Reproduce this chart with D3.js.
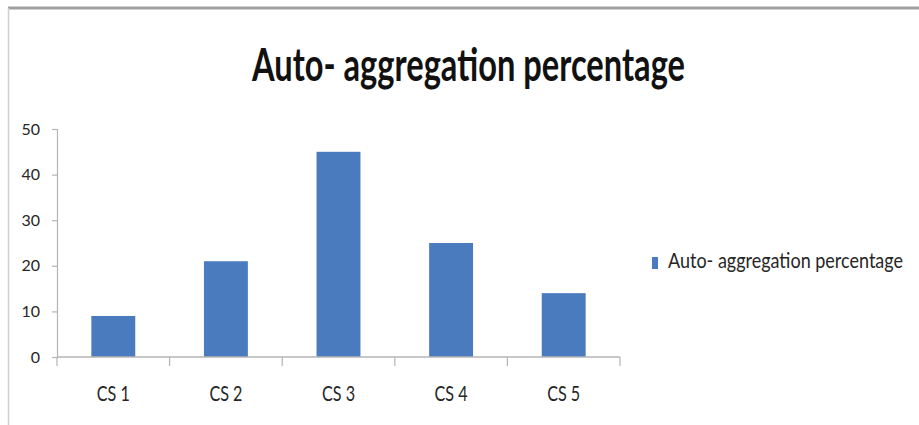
<!DOCTYPE html>
<html>
<head>
<meta charset="utf-8">
<script src="https://cdn.jsdelivr.net/npm/d3@7"></script>
<style>
  html, body { margin: 0; padding: 0; background: #fff; }
  svg { display: block; }
</style>
</head>
<body>
<svg id="chart" width="919" height="425"></svg>
<script>
const title = "Auto- aggregation percentage";
const seriesName = "Auto- aggregation percentage";
const categories = ["CS 1", "CS 2", "CS 3", "CS 4", "CS 5"];
const values = [9, 21, 45, 25, 14];
const yTicks = [0, 10, 20, 30, 40, 50];

(function () {
const svg = d3.select("#chart");
const W = 919, H = 425;
const plotLeft = 57, plotRight = 620, plotTop = 129, plotBottom = 357;
const barColor = "#4a7bbf";
const axisColor = "#b4b4b4";
const font = "Lato, 'Open Sans', sans-serif";

svg.append("rect").attr("width", W).attr("height", H).attr("fill", "#fff");

// frame
svg.append("line").attr("x1", 8).attr("x2", W).attr("y1", 8).attr("y2", 8)
  .attr("stroke", "#a0a0a0").attr("stroke-width", 3);
svg.append("line").attr("x1", 8.5).attr("x2", 8.5).attr("y1", 8).attr("y2", H)
  .attr("stroke", "#cfcfcf").attr("stroke-width", 1.5);

const x = d3.scaleBand().domain(categories).range([plotLeft, plotRight])
  .paddingInner(0.61).paddingOuter(0.305);
const y = d3.scaleLinear().domain([0, 50]).range([plotBottom, plotTop]);

// y axis
const yAxis = svg.append("g").attr("transform", `translate(${plotLeft},0)`)
  .call(d3.axisLeft(y).tickValues(yTicks).tickSize(5).tickPadding(12).tickFormat(d3.format("d")));
yAxis.select(".domain").attr("stroke", axisColor).attr("stroke-width", 1.2);
yAxis.selectAll(".tick line").attr("stroke", axisColor).attr("stroke-width", 1.2);
yAxis.selectAll(".tick text").attr("font-family", font).attr("font-size", 16)
  .attr("fill", "#262626");

// bars
svg.append("g").selectAll("rect").data(values).join("rect")
  .attr("x", (d, i) => x(categories[i]))
  .attr("width", x.bandwidth())
  .attr("y", d => y(d))
  .attr("height", d => y(0) - y(d))
  .attr("fill", barColor);

// x axis
const step = x.step();
const xg = svg.append("g");
xg.append("line").attr("x1", plotLeft).attr("x2", plotRight).attr("y1", y(0)).attr("y2", y(0))
  .attr("stroke", axisColor).attr("stroke-width", 1.5);
const bounds = categories.map(c => x(c) + x.bandwidth() / 2 - step / 2).concat([plotRight]);
xg.selectAll("line.tk").data(bounds).join("line").attr("class", "tk")
  .attr("x1", d => d).attr("x2", d => d)
  .attr("y1", y(0)).attr("y2", y(0) + 9)
  .attr("stroke", axisColor).attr("stroke-width", 1.2);
xg.selectAll("text").data(categories).join("text")
  .attr("transform", d => `translate(${x(d) + x.bandwidth() / 2},401) scale(0.85,1.15)`)
  .attr("text-anchor", "middle")
  .attr("font-family", font).attr("font-size", 19)
  .attr("fill", "#262626")
  .text(d => d);

// title
svg.append("text").attr("x", 252).attr("y", 81)
  .attr("font-family", font).attr("font-weight", "bold").attr("font-size", 45)
  .attr("textLength", 433).attr("lengthAdjust", "spacingAndGlyphs")
  .attr("fill", "#111")
  .text(title);

// legend
svg.append("rect").attr("x", 652).attr("y", 257).attr("width", 6).attr("height", 12)
  .attr("fill", barColor);
svg.append("text").attr("transform", "translate(668,268) scale(1,1.2)")
  .attr("font-family", font).attr("font-size", 17)
  .attr("textLength", 235).attr("lengthAdjust", "spacingAndGlyphs")
  .attr("fill", "#262626")
  .text(seriesName);
})();
</script>
</body>
</html>
